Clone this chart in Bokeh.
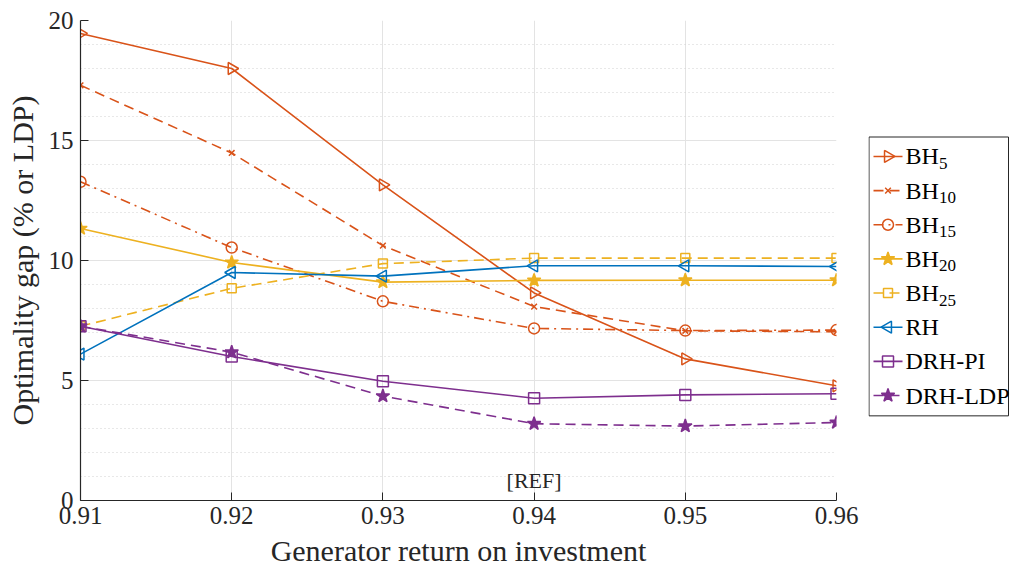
import numpy as np
from bokeh.plotting import figure
from bokeh.layouts import row
from bokeh.core.properties import value
from bokeh.models import (Range1d, FixedTicker, SingleIntervalTicker, PrintfTickFormatter, Label)
from bokeh.embed import file_html
from bokeh.resources import INLINE

x_vals = [0.91, 0.92, 0.93, 0.94, 0.95, 0.96]
bh5 = [19.46, 18.0, 13.15, 8.65, 5.9, 4.78]
bh10 = [17.3, 14.48, 10.62, 8.08, 7.07, 7.03]
bh15 = [13.28, 10.54, 8.3, 7.17, 7.08, 7.1]
bh20 = [11.33, 9.92, 9.1, 9.17, 9.18, 9.18]
bh25 = [7.26, 8.84, 9.87, 10.1, 10.1, 10.1]
rh = [6.1, 9.5, 9.35, 9.78, 9.78, 9.75]
drh_pi = [7.26, 6.0, 4.97, 4.26, 4.4, 4.45]
drh_ldp = [7.26, 6.18, 4.35, 3.2, 3.1, 3.25]
label_main = ["BH", "BH", "BH", "BH", "BH", "RH", "DRH-PI", "DRH-LDP"]
label_sub = ["5", "10", "15", "20", "25", "", "", ""]
x_ticks = [0.91, 0.92, 0.93, 0.94, 0.95, 0.96]
ref_text = "[REF]"
ref_pos = (0.94, 0.85)

ORANGE = "#D95319"
YELLOW = "#EDB120"
BLUE = "#0072BD"
PURPLE = "#7E2F8E"
AX = "#262626"
FONT = "Liberation Serif"

p = figure(width=868, height=569, output_backend="svg", toolbar_location=None,
           x_range=Range1d(0.91, 0.96), y_range=Range1d(0, 20),
           min_border_left=80, min_border_right=32, min_border_top=20, min_border_bottom=67)
p.outline_line_color = None
p.background_fill_color = "white"

# axes
p.xaxis.ticker = FixedTicker(ticks=x_ticks)
p.xaxis.formatter = PrintfTickFormatter(format="%.2f")
p.yaxis.ticker = SingleIntervalTicker(interval=5, num_minor_ticks=5)
for ax in (p.xaxis[0], p.yaxis[0]):
    ax.axis_line_color = AX
    ax.axis_line_width = 1.2
    ax.major_tick_line_color = AX
    ax.major_tick_in = 8
    ax.major_tick_out = 0
    ax.minor_tick_in = 0
    ax.minor_tick_out = 0
    ax.major_label_text_font = FONT
    ax.major_label_text_font_size = "25px"
    ax.major_label_text_color = AX
    ax.axis_label_text_font = FONT
    ax.axis_label_text_font_size = "30px"
    ax.axis_label_text_font_style = "normal"
    ax.axis_label_text_color = AX
p.xaxis.axis_label = "Generator return on investment"
p.yaxis.axis_label = "Optimality gap (% or LDP)"
p.xaxis.major_label_standoff = 6
p.yaxis.major_label_standoff = 7
p.xaxis.axis_label_standoff = 7
p.yaxis.axis_label_standoff = 7

# grid
p.xgrid.grid_line_color = "#e3e3e3"
p.xgrid.grid_line_width = 1
p.ygrid.grid_line_color = "#e3e3e3"
p.ygrid.grid_line_width = 1
p.ygrid.minor_grid_line_color = "#d0d0d0"
p.ygrid.minor_grid_line_dash = "1 3"
p.ygrid.minor_grid_line_width = 1

DASH = "10 6"
DASHDOT = "10 5 2 5"
series = [
    (bh5, ORANGE, "solid", "triangle", -np.pi / 2, 12, False),
    (bh10, ORANGE, DASH, "x", 0, 8, False),
    (bh15, ORANGE, DASHDOT, "circle", 0, 11, False),
    (bh20, YELLOW, "solid", "star", 0, 14, True),
    (bh25, YELLOW, DASH, "square", 0, 9, False),
    (rh, BLUE, "solid", "triangle", np.pi / 2, 12, False),
    (drh_pi, PURPLE, "solid", "square", 0, 11, False),
    (drh_ldp, PURPLE, DASH, "star", 0, 14, True),
]

for (ys, col, dash, mk, ang, sz, filled) in series:
    p.line(x_vals, ys, line_color=col, line_width=1.6, line_dash=dash)
    p.scatter(x_vals, ys, marker=mk, size=sz, angle=ang, line_color=col, line_width=1.5,
              fill_color=col if filled else None)

p.add_layout(Label(x=ref_pos[0], y=ref_pos[1], text=ref_text, text_align="center",
                   text_baseline="middle", text_font=FONT, text_font_size="22px",
                   text_color=AX))

# ---- legend panel (page-pixel coordinates; frame aligned with main frame 20..502) ----
LX0 = 868
leg = figure(width=1011 - LX0, height=569, output_backend="svg", toolbar_location=None,
             x_range=Range1d(LX0, 1011), y_range=Range1d(502, 20),
             min_border_left=0, min_border_right=0,
             min_border_top=20, min_border_bottom=67)
leg.axis.visible = False
leg.grid.visible = False
leg.outline_line_color = None
leg.background_fill_color = "white"

box_l, box_r, box_t, box_b = 868.5, 1008, 137, 417
leg.quad(left=box_l, right=box_r, top=box_t, bottom=box_b, fill_color="white",
         line_color=AX, line_width=1)
y0, dy = 156.5, 34.3
for i, (s, lm, ls) in enumerate(zip(series, label_main, label_sub)):
    ys, col, dash, mk, ang, sz, filled = s
    yc = y0 + i * dy
    leg.line([873, 902], [yc, yc], line_color=col, line_width=1.6, line_dash=dash)
    leg.scatter([887.5], [yc], marker=mk, size=sz, angle=ang, line_color=col, line_width=1.5,
                fill_color=col if filled else None)
    leg.text([905], [yc], text=[lm], text_font=value(FONT),
             text_baseline="middle", text_align="left", text_font_size="24px",
             text_color="black")
    if ls:
        leg.text([938.5], [yc + 7], text=[ls], text_font=value(FONT),
                 text_baseline="middle", text_align="left",
                 text_font_size="17px", text_color="black")

layout = row(p, leg, spacing=0)
open("out.html", "w").write(file_html(layout, INLINE))
